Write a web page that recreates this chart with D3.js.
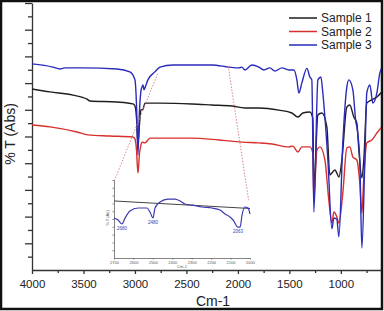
<!DOCTYPE html>
<html>
<head>
<meta charset="utf-8">
<script src="https://cdn.jsdelivr.net/npm/d3@7"></script>
<style>
  body { margin: 0; background: #fff; }
  svg { display: block; font-family: Arial, "Liberation Sans", sans-serif; }
</style>
</head>
<body>
<svg id="chart" width="384" height="311"></svg>
<script>
// FTIR spectra, [wavenumber, %T]
const sample1 = [[4000,67.8],[3825,66.7],[3602,65.5],[3466,64.0],[3437,63.3],[3175,62.9],[3019,62.2],[3000,61.4],
  [2985,57],[2971,46.8],[2955,55],[2942,59.9],[2922,60.2],[2903,62.5],[2757,62.5],[2447,62.2],[2252,61.8],[2058,61.4],
  [1932,60.7],[1796,60.7],[1602,59.9],[1476,58.8],[1417,57.3],[1369,58.8],[1301,59.2],[1272,56.9],[1262,30.0],
  [1223,58.1],[1184,58.8],[1136,53.6],[1107,35.6],[1087,36.3],[1058,37.5],[1039,36.3],[1019,34.8],[990,41.2],
  [942,61.0],[913,61.8],[874,57.3],[845,55.1],[825,44.9],[796,34.5],[777,41.2],[748,62.5],[699,63.7],[650,64.8],[602,66.7]];

const sample2 = [[4000,54.3],[3825,53.6],[3563,51.7],[3456,50.6],[3243,50.2],[3019,49.8],[3000,49.1],[2985,45],
  [2971,36.3],[2955,44],[2942,46.8],[2932,47.9],[2903,47.6],[2854,49.4],[2631,49.4],[2447,49.4],[2184,48.7],
  [1961,47.9],[1796,47.6],[1670,47.2],[1505,46.1],[1466,46.4],[1417,44.2],[1379,46.1],[1301,46.1],[1272,43.8],
  [1262,26.2],[1233,44.9],[1204,46.1],[1155,41.2],[1117,26.2],[1087,17.6],[1068,21.7],[1039,19.9],[1019,17.6],
  [981,28.8],[942,45.7],[913,46.1],[883,42.3],[845,41.2],[816,32.6],[796,21.3],[777,34.8],[748,47.6],[699,48.7],
  [650,51.3],[602,53.6]];

const sample3 = [[4000,77.2],[3796,76.0],[3728,75.3],[3680,75.7],[3505,75.7],[3175,75.3],[3049,74.2],[3000,71.2],
  [2985,62],[2971,43.1],[2958,58],[2942,67],[2932,68.5],[2922,69.3],[2912,67.5],[2903,68.2],[2874,71.2],[2806,74.2],
  [2757,76.0],[2631,76.8],[2447,76.8],[2252,76.8],[2087,76.0],[1990,75.7],[1961,76.0],[1932,74.9],[1864,76.8],
  [1796,76.0],[1748,74.9],[1689,75.7],[1641,74.5],[1573,75.7],[1505,74.9],[1456,74.9],[1427,71.2],[1408,66.3],
  [1379,70.0],[1330,75.5],[1301,72.3],[1282,71.2],[1262,21.7],[1223,71.2],[1194,72.3],[1175,66.3],[1126,41.2],
  [1087,15.4],[1068,19.5],[1039,19.0],[1019,12.4],[981,47.6],[942,68.5],[922,71.2],[883,67.4],[854,55.4],[845,53.6],
  [816,41.2],[796,8.2],[767,41.2],[748,66.3],[718,69.3],[689,62.5],[650,66.3],[621,73.8],[602,75.7]];

// zoomed inset 2700-2000
const insetSample1 = [[2700,73.1],[2000,63.5]];
const insetSample3 = [[2700,51.3],[2679,48.7],[2659,43.6],[2643,51.3],[2618,60.3],[2576,64.1],[2530,64.1],[2515,59.0],
  [2499,51.3],[2489,64.1],[2463,71.8],[2422,75.6],[2386,75.6],[2360,73.1],[2335,69.2],[2299,67.9],[2247,65.4],
  [2196,64.1],[2154,61.5],[2129,56.4],[2103,52.6],[2087,48.7],[2062,39.7],[2051,39.7],[2041,55.1],[2026,65.4],
  [2010,64.1],[2000,56.4]];
const insetPeaks = [[2659,43.6,'2680'],[2499,51.3,'2480'],[2062,39.7,'2063']];

const xTicks = [4000,3500,3000,2500,2000,1500,1000];
const xMinor = [3750,3250,2750,2250,1750,1250,750];
const insetTicks = [2700,2600,2500,2400,2300,2200,2100,2000];

const seriesNames = ['Sample 1','Sample 2','Sample 3'];
const seriesColors = ['#1e1e1e','#d8302c','#2b2bbb'];

const svg = d3.select('#chart');

// frame round the whole picture
svg.append('rect')
  .attr('x', 1).attr('y', 1).attr('width', 381).attr('height', 308)
  .attr('fill', 'none').attr('stroke', '#111').attr('stroke-width', 2.5);

const x = d3.scaleLinear().domain([4000, 610]).range([32, 381]);
const y = d3.scaleLinear().domain([0, 100]).range([270, 3]);

svg.append('clipPath').attr('id', 'plotclip')
  .append('rect').attr('x', 32).attr('y', 0).attr('width', 349).attr('height', 272);

// axes
const xAxis = svg.append('g').attr('transform', 'translate(0,270)')
  .call(d3.axisBottom(x).tickValues(xTicks).tickSize(4).tickSizeOuter(0).tickFormat(d3.format('d')));
svg.append('g').attr('transform', 'translate(0,270)')
  .call(d3.axisBottom(x).tickValues(xMinor).tickSize(3).tickSizeOuter(0).tickFormat(''))
  .select('.domain').remove();
xAxis.selectAll('text').attr('font-size', 11.5).attr('fill', '#222').attr('dy', '0.95em');

svg.append('g').attr('transform', 'translate(32,0)')
  .call(d3.axisLeft(y).tickValues(d3.range(10, 101, 10)).tickSize(7).tickSizeOuter(0).tickFormat(''));
svg.append('g').attr('transform', 'translate(32,0)')
  .call(d3.axisLeft(y).tickValues(d3.range(5, 100, 10)).tickSize(4).tickSizeOuter(0).tickFormat(''))
  .select('.domain').remove();

svg.selectAll('.domain, .tick line').attr('stroke', '#333').attr('stroke-width', 1.3);

svg.append('text')
  .attr('x', 213).attr('y', 306)
  .attr('text-anchor', 'middle')
  .attr('font-size', 14).attr('fill', '#222')
  .text('Cm-1');

svg.append('text')
  .attr('transform', 'translate(15,134) rotate(-90)')
  .attr('text-anchor', 'middle')
  .attr('font-size', 14).attr('fill', '#222')
  .text('% T (Abs)');

// the spectra
const line = d3.line()
  .x(d => x(d[0]))
  .y(d => y(d[1]))
  .curve(d3.curveMonotoneX);

const plot = svg.append('g').attr('clip-path', 'url(#plotclip)');
[sample1, sample2, sample3].forEach((s, i) => {
  plot.append('path')
    .datum(s)
    .attr('d', line)
    .attr('fill', 'none')
    .attr('stroke', seriesColors[i])
    .attr('stroke-width', 1.4)
    .attr('stroke-linejoin', 'round');
});

// legend
const legend = svg.append('g');
seriesNames.forEach((name, i) => {
  const ly = 18 + i * 13.5;
  legend.append('line')
    .attr('x1', 289).attr('x2', 317).attr('y1', ly).attr('y2', ly)
    .attr('stroke', seriesColors[i]).attr('stroke-width', 1.5);
  legend.append('text')
    .attr('x', 321).attr('y', ly + 4)
    .attr('font-size', 12).attr('fill', '#222')
    .text(name);
});

// inset
const ix = d3.scaleLinear().domain([2700, 2000]).range([114, 250]);
const iy = d3.scaleLinear().domain([0, 100]).range([258, 180]);

// dashed guide lines from the main curve to the inset corners
const guides = [
  [[x(2780), y(73.5)], [ix(2700), iy(98)]],
  [[x(2095), y(76.5)], [ix(2007), iy(74)]]
];
guides.forEach(g => {
  svg.append('line')
    .attr('x1', g[0][0]).attr('y1', g[0][1]).attr('x2', g[1][0]).attr('y2', g[1][1])
    .attr('stroke', '#d98a8a').attr('stroke-width', 1).attr('stroke-dasharray', '1.5,1.5');
});

const inset = svg.append('g');
const ixAxis = inset.append('g').attr('transform', 'translate(0,258)')
  .call(d3.axisBottom(ix).tickValues(insetTicks).tickSize(1.5).tickSizeOuter(0).tickFormat(d3.format('d')));
ixAxis.selectAll('text').attr('font-size', 4).attr('fill', '#555').attr('dy', '0.4em');
const iyAxis = inset.append('g').attr('transform', 'translate(114,0)')
  .call(d3.axisLeft(iy).tickValues(d3.range(10, 101, 10)).tickSize(1.5).tickSizeOuter(0).tickFormat(''));
inset.selectAll('.domain, .tick line').attr('stroke', '#666').attr('stroke-width', 0.8);

inset.append('text')
  .attr('x', 182).attr('y', 268)
  .attr('text-anchor', 'middle').attr('font-size', 4).attr('fill', '#555')
  .text('Cm-1');
inset.append('text')
  .attr('transform', 'translate(109,218) rotate(-90)')
  .attr('text-anchor', 'middle').attr('font-size', 4).attr('fill', '#555')
  .text('% T (Ab)');

const iline = d3.line()
  .x(d => ix(d[0]))
  .y(d => iy(d[1]))
  .curve(d3.curveMonotoneX);

inset.append('path').datum(insetSample1).attr('d', iline)
  .attr('fill', 'none').attr('stroke', '#444').attr('stroke-width', 1);
inset.append('path').datum(insetSample3).attr('d', iline)
  .attr('fill', 'none').attr('stroke', '#3a3ab0').attr('stroke-width', 1.2);

inset.selectAll('.peak')
  .data(insetPeaks)
  .join('text')
  .attr('class', 'peak')
  .attr('x', d => ix(d[0]))
  .attr('y', d => iy(d[1]) + 6)
  .attr('text-anchor', 'middle')
  .attr('font-size', 4.5).attr('fill', '#3a3ab0')
  .text(d => d[2]);
</script>
</body>
</html>
